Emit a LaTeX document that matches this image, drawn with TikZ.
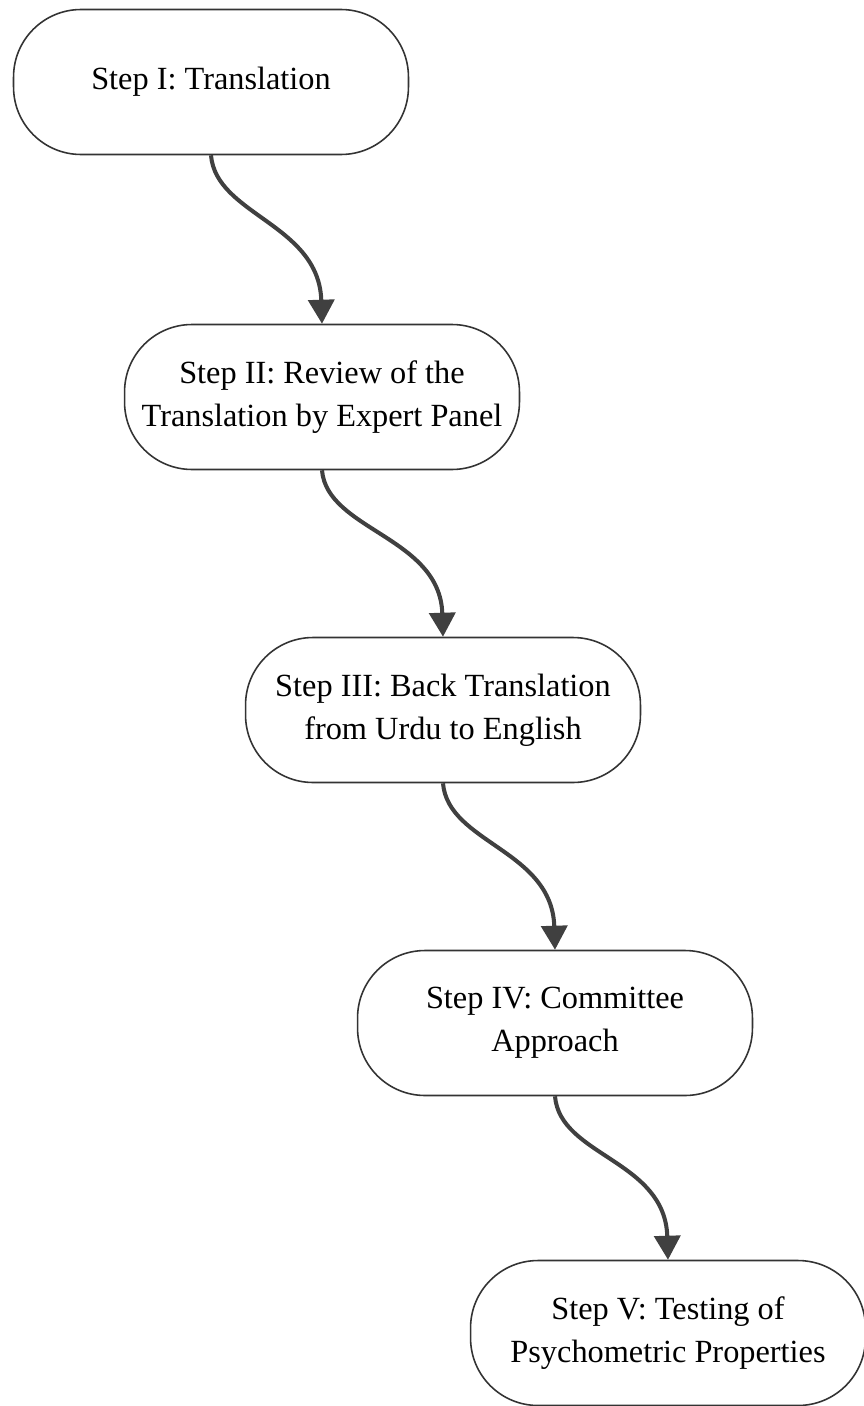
\documentclass[tikz,border=0pt]{standalone}
\usepackage{fontspec}
\setmainfont{Liberation Serif}
\usepackage{tikz}
\usetikzlibrary{arrows.meta}

\tikzset{
  stepbox/.style={draw=black!80, line width=0.9pt, rounded corners=1.35cm,
    minimum width=7.9cm, minimum height=2.9cm, inner sep=0pt, align=center,
    font=\fontsize{18.4}{24.4}\selectfont},
  flow/.style={draw=black!75, line width=2.3pt,
    -{Triangle[length=0.48cm, width=0.52cm]}}
}

\begin{document}
\begin{tikzpicture}[x=0.02cm, y=-0.02cm]
	\useasboundingbox (0,0) rectangle (864,1406);
	\node[stepbox] at (211,82) (s1) {Step I: Translation};
	\node[stepbox] at (322,397) (s2) {Step II: Review of the\\Translation by Expert Panel};
	\node[stepbox] at (443,710) (s3) {Step III: Back Translation\\from Urdu to English};
	\node[stepbox] at (555,1023) (s4) {Step IV: Committee\\Approach};
	\node[stepbox] at (668,1333) (s5) {Step V: Testing of\\Psychometric Properties};
	\draw[flow] (s1.south) .. controls +(5,60) and +(-3,-100) .. (s2.north);
	\draw[flow] (s2.south) .. controls +(5,60) and +(-3,-100) .. (s3.north);
	\draw[flow] (s3.south) .. controls +(5,60) and +(-3,-100) .. (s4.north);
	\draw[flow] (s4.south) .. controls +(5,60) and +(-3,-100) .. (s5.north);
\end{tikzpicture}
\end{document}
